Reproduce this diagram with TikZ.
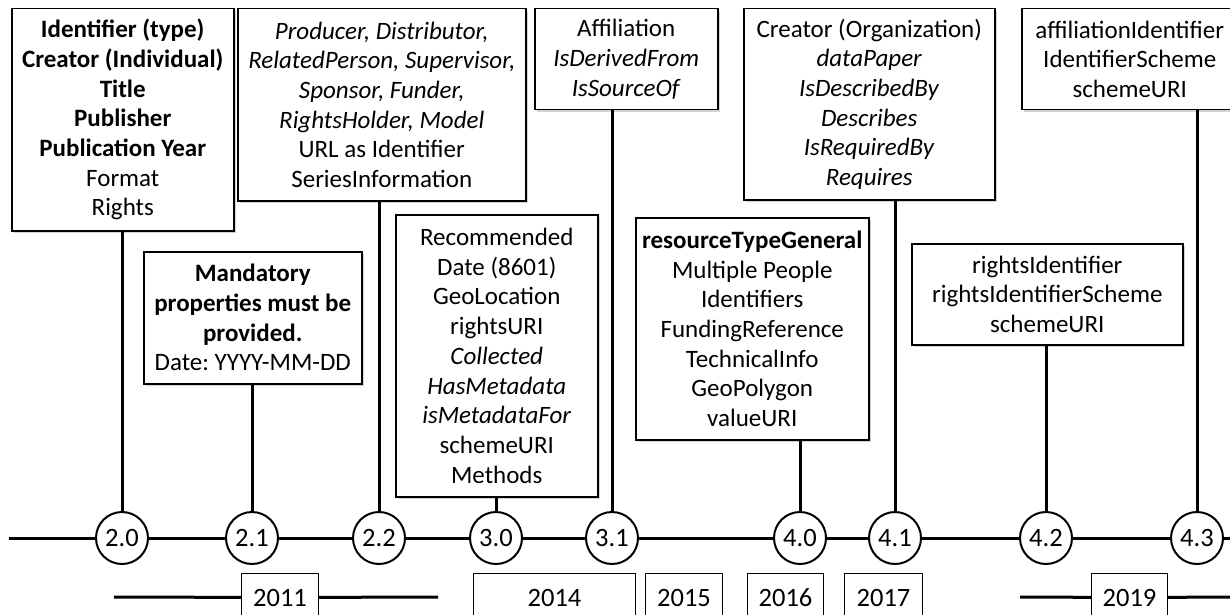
\documentclass[tikz,border=0pt]{standalone}
\usepackage{fontspec}
\setmainfont{Carlito}
\frenchspacing
\usetikzlibrary{positioning,
calc,
shapes.geometric,
shadows}
\tikzstyle{Box} = [
draw, line width=1.5pt, fill=white,
align=center, inner sep=0pt,
anchor=north west,
drop shadow={opacity=0.35, shadow xshift=2pt, shadow yshift=-2pt}
]
\tikzstyle{Ver} = [
circle, draw, line width=2pt, fill=white,
minimum size=52pt, inner sep=0pt,
font=\fontsize{26.5}{30}\selectfont
]
\tikzstyle{Year} = [
draw, line width=1pt, fill=white, inner sep=0pt,
anchor=north west, minimum height=48pt,
font=\fontsize{26.5}{30}\selectfont
]
\tikzstyle{Stem} = [line width=3pt]

\begin{document}
\begin{tikzpicture}[x=1pt, y=-1pt,
every node/.style={font=\fontsize{25}{29.7}\selectfont}]
   \useasboundingbox (0,0) rectangle (1230,615);
   \clip (0,0) rectangle (1230,615);

   % boxes
   \node [Box, minimum width=222pt, minimum height=222pt] (b20) at (11,8)
      {\textbf{Identifier (type)}\\ \textbf{Creator (Individual)}\\ \textbf{Title}\\
       \textbf{Publisher}\\ \textbf{Publication Year}\\ Format\\ Rights};
   \node [Box, minimum width=218pt, minimum height=132pt] (b21) at (143,251)
      {\textbf{Mandatory}\\ \textbf{properties must be}\\ \textbf{provided.}\\ Date: YYYY-MM-DD};
   \node [Box, minimum width=288pt, minimum height=192pt] (b22) at (237,8)
      {\textit{Producer, Distributor,}\\ \textit{RelatedPerson, Supervisor,}\\
       \textit{Sponsor, Funder,}\\ \textit{RightsHolder, Model}\\ URL as Identifier\\ SeriesInformation};
   \node [Box, minimum width=202pt, minimum height=282pt] (b30) at (395,214)
      {Recommended\\ Date (8601)\\ GeoLocation\\ rightsURI\\ \textit{Collected}\\
       \textit{HasMetadata}\\ \textit{isMetadataFor}\\ schemeURI\\ Methods};
   \node [Box, minimum width=183pt, minimum height=101pt] (b31) at (534,8)
      {Affiliation\\ \textit{IsDerivedFrom}\\ \textit{IsSourceOf}};
   \node [Box, minimum width=233pt, minimum height=222pt] (b40) at (635,217)
      {\textbf{resourceTypeGeneral}\\ Multiple People\\ Identifiers\\ FundingReference\\
       TechnicalInfo\\ GeoPolygon\\ valueURI};
   \node [Box, minimum width=251pt, minimum height=191pt] (b41) at (743,8)
      {Creator (Organization)\\ \textit{dataPaper}\\ \textit{IsDescribedBy}\\ \textit{Describes}\\
       \textit{IsRequiredBy}\\ \textit{Requires}};
   \node [Box, minimum width=271pt, minimum height=101pt] (b42) at (911,243)
      {rightsIdentifier\\ rightsIdentifierScheme\\ schemeURI};
   \node [Box, minimum width=216pt, minimum height=101pt] (b43) at (1021,8)
      {affiliationIdentifier\\ IdentifierScheme\\ schemeURI};

   % versions
   \node [Ver] (v20) at (122,538) {2.0};
   \node [Ver] (v21) at (252,538) {2.1};
   \node [Ver] (v22) at (379,538) {2.2};
   \node [Ver] (v30) at (496,538) {3.0};
   \node [Ver] (v31) at (612,538) {3.1};
   \node [Ver] (v40) at (800,538) {4.0};
   \node [Ver] (v41) at (895,538) {4.1};
   \node [Ver] (v42) at (1046,538) {4.2};
   \node [Ver] (v43) at (1197,538) {4.3};
   \coordinate (t0) at (9,538);
   \coordinate (t1) at (1240,538);

   \draw [Stem] (t0) -- (v20) -- (v21) -- (v22) -- (v30) -- (v31)
      -- (v40) -- (v41) -- (v42) -- (v43) -- (t1);
   \foreach \v in {20,21,22,30,31,40,41,42,43}
      \draw [Stem] (v\v.north) -- (v\v |- b\v.south);

   % years
   \node [Year, minimum width=77pt] (y11) at (241,573) {2011};
   \node [Year, minimum width=162pt] (y14) at (473,573) {2014};
   \node [Year, minimum width=77pt] (y15) at (645,573) {2015};
   \node [Year, minimum width=76pt] (y16) at (747,573) {2016};
   \node [Year, minimum width=78pt] (y17) at (844,573) {2017};
   \node [Year, minimum width=76pt] (y19) at (1091,573) {2019};
   \coordinate (y11a) at (114,597);
   \coordinate (y11b) at (438,597);
   \coordinate (y19a) at (1020,597);
   \coordinate (y19b) at (1240,597);
   \draw [Stem] (y11a) -- (y11) -- (y11b);
   \draw [Stem] (y19a) -- (y19) -- (y19b);
\end{tikzpicture}
\end{document}
